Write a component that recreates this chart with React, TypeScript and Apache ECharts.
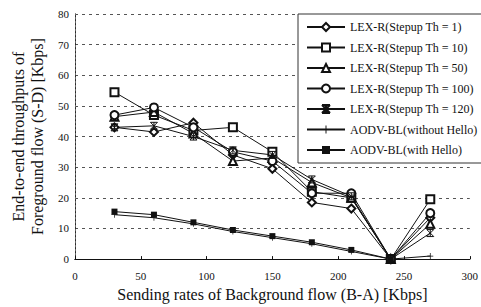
import React, { useEffect, useRef } from "react";
import * as echarts from "echarts";

const xValues = [30, 60, 90, 120, 150, 180, 210, 240, 270];
const th1 = [43, 41.5, 44.5, 34, 29.5, 18.5, 16.5, 0, 13.5];
const th10 = [54.5, 47, 42, 43, 35, 22, 20, 0, 19.5];
const th50 = [46.5, 48, 41, 32, 33, 25, 20, 0, 11.5];
const th100 = [47, 49.5, 43, 35, 32, 21.5, 21.5, 0, 15];
const th120 = [43, 43.5, 40, 35.5, 34, 26, 20.5, 0, 8.5];
const aodvNoHello = [14.5, 13.5, 11.5, 9, 7, 5, 2.5, 0, 1];
const aodvHello = [15.5, 14.5, 12, 9.5, 7.5, 5.5, 3, 0];

const seriesNames = [
  "LEX-R(Stepup Th = 1)",
  "LEX-R(Stepup Th = 10)",
  "LEX-R(Stepup Th = 50)",
  "LEX-R(Stepup Th = 100)",
  "LEX-R(Stepup Th = 120)",
  "AODV-BL(without Hello)",
  "AODV-BL(with Hello)",
];

const FONT = "'Liberation Serif', 'DejaVu Serif', serif";

function pairs(ys: number[]) {
  return ys.map((y, i) => [xValues[i], y]);
}

export default function App() {
  const ref = useRef<HTMLDivElement>(null);
  useEffect(() => {
    if (!ref.current) return;
    const chart = echarts.init(ref.current, null, { renderer: "svg" });
    const data = [th1, th10, th50, th100, th120, aodvNoHello, aodvHello];
    const symbols = [
      "emptyDiamond",
      "emptyRect",
      "emptyTriangle",
      "emptyCircle",
      "path://M0,0L10,10M10,0L0,10M0,0L10,0M0,10L10,10M5,0L5,10",
      "path://M4.4,0H5.6V4.4H10V5.6H5.6V10H4.4V5.6H0V4.4H4.4Z",
      "path://M0,3.8H10V6.2H0Z",
    ];
    const sizes = [8, 8, 8, 8, 7, 6, 6];
    const series = data.map((d, i) => ({
      name: seriesNames[i],
      type: "line",
      data: pairs(d),
      symbol: symbols[i],
      symbolSize: sizes[i],
      showAllSymbol: true,
      lineStyle: { color: "#111", width: 1 },
      itemStyle:
        i >= 4
          ? { color: "#111", borderColor: "#111", borderWidth: i === 4 ? 1 : 0 }
          : { color: "#111", borderColor: "#111", borderWidth: 0.8 },
      emphasis: { disabled: true },
      z: 3,
    }));
    chart.setOption({
      animation: false,
      backgroundColor: "#fff",
      textStyle: { fontFamily: FONT },
      grid: { left: 75, right: 7, top: 14, bottom: 42 },
      legend: {
        orient: "vertical",
        left: 298,
        top: 14,
        data: seriesNames,
        itemWidth: 38,
        itemHeight: 10,
        itemGap: 8.5,
        padding: [7, 8, 7, 8],
        borderColor: "#333",
        borderWidth: 1,
        backgroundColor: "#fff",
        textStyle: { fontFamily: FONT, fontSize: 12, color: "#111", lineHeight: 12 },
        z: 10,
      },
      xAxis: [
        {
          type: "value",
          min: 0,
          max: 300,
          interval: 50,
          name: "Sending rates of Background flow (B-A) [Kbps]",
          nameLocation: "middle",
          nameGap: 26,
          nameTextStyle: { fontFamily: FONT, fontSize: 16, color: "#111" },
          axisLine: { lineStyle: { color: "#111", width: 1 } },
          axisTick: { show: true, inside: true, length: 3, lineStyle: { color: "#111" } },
          axisLabel: { fontFamily: FONT, fontSize: 11, color: "#111", margin: 11 },
          splitLine: { show: false },
        },
        {
          type: "value",
          position: "top",
          min: 0,
          max: 300,
          interval: 50,
          axisLine: { show: true, lineStyle: { color: "#111", width: 1 } },
          axisTick: { show: false },
          axisLabel: { show: false },
          splitLine: { show: false },
        },
      ],
      yAxis: [
        {
          type: "value",
          min: 0,
          max: 80,
          interval: 10,
          name: "End-to-end throughputs of\nForeground flow (S-D) [Kbps]",
          nameLocation: "middle",
          nameRotate: 90,
          nameGap: 26,
          nameTextStyle: { fontFamily: FONT, fontSize: 16, color: "#111", lineHeight: 19 },
          axisLine: { show: true, lineStyle: { color: "#111", width: 1 } },
          axisTick: { show: false },
          axisLabel: { fontFamily: FONT, fontSize: 11, color: "#111", margin: 6 },
          splitLine: { show: true, lineStyle: { color: "#555", type: [3, 4], width: 1 } },
        },
        {
          type: "value",
          position: "right",
          min: 0,
          max: 80,
          interval: 10,
          axisLine: { show: true, lineStyle: { color: "#666", width: 1, type: [2, 2] } },
          axisTick: { show: false },
          axisLabel: { show: false },
          splitLine: { show: false },
        },
      ],
      series,
    });
    return () => chart.dispose();
  }, []);
  return (
    <div
      ref={ref}
      style={{ position: "fixed", left: 0, top: 0, width: 481, height: 307, overflow: "hidden" }}
    />
  );
}
